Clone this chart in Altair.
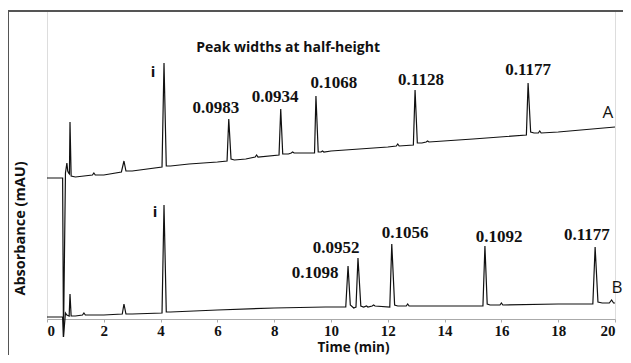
import altair as alt
import pandas as pd

# Trace A (upper chromatogram): time (min), absorbance (arbitrary mAU, offset trace)
a_time = [0.0, 0.55, 0.58, 0.65, 0.70, 0.73, 0.76, 0.79, 0.81, 0.85, 1.0, 1.6, 1.65, 1.7, 2.0,
          2.62, 2.71, 2.78, 3.0, 4.05, 4.12, 4.2, 4.35, 5.0, 6.0, 6.34, 6.40, 6.48, 6.6, 7.0,
          7.33, 7.38, 7.43, 8.17, 8.23, 8.3, 8.5, 8.6, 8.65, 8.7, 9.42, 9.47, 9.55, 9.65, 9.7,
          9.75, 10.0, 12.0, 12.3, 12.35, 12.4, 12.9, 12.96, 13.04, 13.2, 13.35, 13.4, 13.45, 15.0,
          16.88, 16.94, 17.03, 17.15, 17.3, 17.35, 17.4, 18.0, 20.0]
a_abs = [141, 141, -18, 146, 156, 148, 146, 145, 197, 143, 142, 144, 146, 144, 144,
         147, 158, 148, 148, 152, 256, 153, 153, 155, 157, 158, 200, 160, 159, 160,
         162, 164, 162, 164, 210, 165, 165, 166, 167, 166, 166, 223, 167, 167, 168,
         167, 168, 172, 173, 175, 173, 174, 229, 176, 176, 177, 178, 177, 180,
         184, 236, 187, 186, 186, 188, 186, 187, 192]

# Trace B (lower chromatogram)
b_time = [0.0, 0.55, 0.58, 0.65, 0.70, 0.78, 0.81, 0.85, 1.0, 1.25, 1.3, 1.35, 2.0, 2.65, 2.71,
          2.78, 3.0, 4.05, 4.12, 4.2, 4.35, 6.0, 8.0, 9.8, 10.52, 10.6, 10.68, 10.8, 10.88, 10.95,
          11.05, 11.15, 11.25, 11.3, 11.45, 11.5, 11.55, 12.07, 12.14, 12.24, 12.35, 12.65, 12.7,
          12.75, 15.35, 15.42, 15.5, 15.6, 15.95, 16.0, 16.05, 18.0, 19.22, 19.3, 19.4, 19.55,
          19.8, 19.88, 19.95, 20.0]
b_abs = [2, 2, -18, 6, 4, 3, 25, 3, 3, 4, 6, 4, 4, 5, 15,
         5, 5, 6, 114, 7, 7, 9, 11, 12, 12, 53, 14, 11, 12, 61,
         13, 12, 13, 12, 13, 14, 13, 12, 75, 14, 13, 13, 15,
         13, 13, 73, 15, 14, 14, 16, 14, 15, 15, 72, 17, 16,
         16, 19, 16, 16]

# Peak-width annotations
width_labels = ["0.0983", "0.0934", "0.1068", "0.1128", "0.1177",
                "0.1098", "0.0952", "0.1056", "0.1092", "0.1177"]
width_t = [5.95, 8.03, 10.1, 13.17, 16.94, 9.44, 10.18, 12.61, 15.92, 19.01]
width_v = [211, 222, 236, 239, 249, 46, 71, 86, 82, 84]

i_t = [3.73, 3.80]
i_v = [247, 107]

trace_names = ["A", "B"]
trace_t = [19.75, 20.07]
trace_v = [206, 31]

x_ticks = list(range(0, 21, 2))

rows = []
for k, (t, v) in enumerate(zip(a_time, a_abs)):
    rows.append({"trace": "A", "idx": k, "t": t, "v": v})
for k, (t, v) in enumerate(zip(b_time, b_abs)):
    rows.append({"trace": "B", "idx": k, "t": t, "v": v})
df = pd.DataFrame(rows)

W, H = 568, 308
xs = alt.Scale(domain=[0, 20], nice=False, zero=False)
ys = alt.Scale(domain=[0, 308], nice=False, zero=False)

lines = alt.Chart(df).mark_line(color="#111", strokeWidth=1.2, clip=False).encode(
    x=alt.X("t:Q", scale=xs,
            axis=alt.Axis(values=x_ticks, title="Time (min)", grid=False,
                          domainColor="#aaa", domainWidth=1, tickColor="#aaa", tickSize=3,
                          labelFont="Liberation Serif", labelFontWeight="bold", labelFontSize=15,
                          labelColor="#111", labelPadding=1,
                          titleFont="Open Sans", titleFontWeight="bold", titleFontSize=13.5,
                          titleColor="#111", titleX=306, titleY=32.5,
                          titleBaseline="alphabetic", titleAlign="center")),
    y=alt.Y("v:Q", scale=ys,
            axis=alt.Axis(domain=False, ticks=False, labels=False, grid=False,
                          title="Absorbance (mAU)", titleFont="Open Sans", titleFontWeight="bold",
                          titleFontSize=14.5, titleColor="#111", titleX=-27, titleY=217,
                          titleAngle=270, titleBaseline="middle", titleAlign="center")),
    detail="trace:N",
    order="idx:Q",
)

wdf = pd.DataFrame({"label": width_labels, "t": width_t, "v": width_v})
wtext = alt.Chart(wdf).mark_text(font="Liberation Serif", fontWeight="bold", fontSize=17,
                                 color="#111", align="center", baseline="middle").encode(
    x=alt.X("t:Q", scale=xs), y=alt.Y("v:Q", scale=ys), text="label:N")

idf = pd.DataFrame({"label": ["i", "i"], "t": i_t, "v": i_v})
itext = alt.Chart(idf).mark_text(font="Open Sans", fontWeight="bold", fontSize=15,
                                 color="#111", align="center", baseline="middle").encode(
    x=alt.X("t:Q", scale=xs), y=alt.Y("v:Q", scale=ys), text="label:N")

tdf = pd.DataFrame({"label": trace_names, "t": trace_t, "v": trace_v})
ttext = alt.Chart(tdf).mark_text(font="Open Sans", fontSize=17, color="#111",
                                 align="center", baseline="middle").encode(
    x=alt.X("t:Q", scale=xs), y=alt.Y("v:Q", scale=ys), text="label:N")

title_df = pd.DataFrame({"label": ["Peak widths at half-height"], "t": [8.49], "v": [271]})
title_text = alt.Chart(title_df).mark_text(font="Open Sans", fontWeight="bold", fontSize=14,
                                           color="#111", align="center", baseline="middle").encode(
    x=alt.X("t:Q", scale=xs), y=alt.Y("v:Q", scale=ys), text="label:N")

# figure frame (top and left border)
frame_top = alt.Chart(pd.DataFrame({"a": [0]})).mark_rule(color="#555", strokeWidth=2).encode(
    x=alt.value(-39), x2=alt.value(590), y=alt.value(0))
frame_left = alt.Chart(pd.DataFrame({"a": [0]})).mark_rule(color="#555", strokeWidth=2).encode(
    x=alt.value(-39), y=alt.value(0), y2=alt.value(360))

chart = alt.layer(frame_top, frame_left, lines, wtext, itext, ttext, title_text).properties(
    width=W, height=H,
    autosize=alt.AutoSizeParams(type="none"),
    padding={"left": 39, "top": 3, "right": 8, "bottom": 36},
).configure_view(stroke=None).configure(background="white")

chart.save("out.html", embed_options={"renderer": "svg", "actions": False})
